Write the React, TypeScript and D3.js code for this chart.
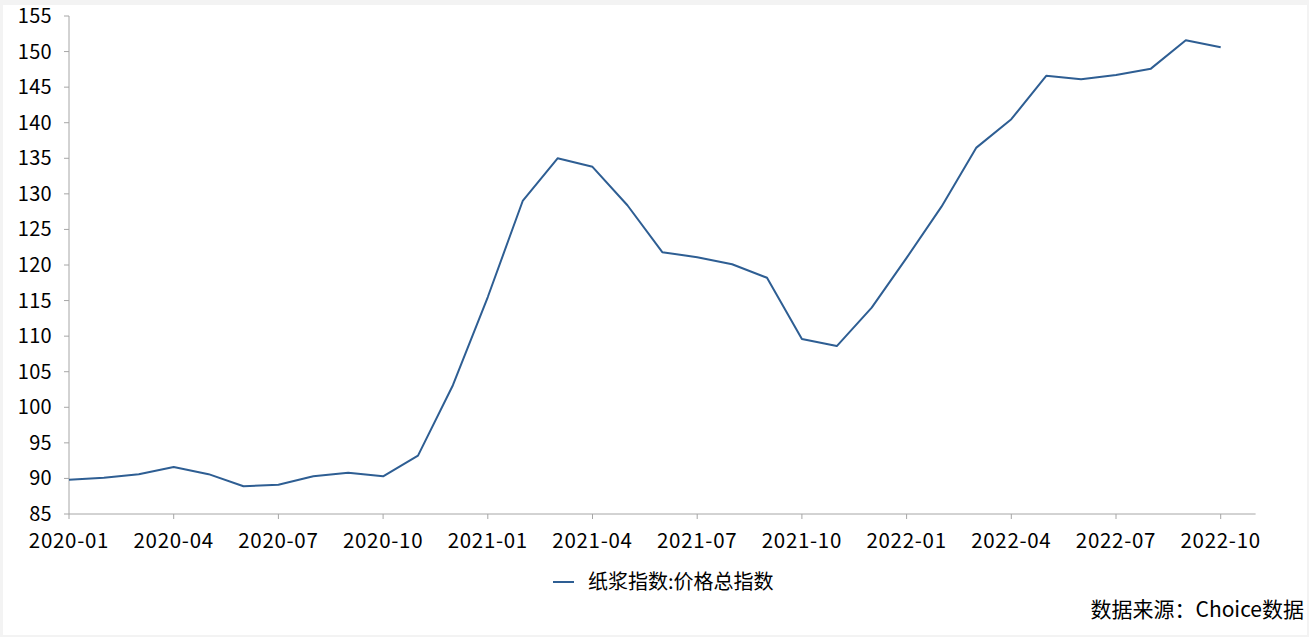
import React from "react";
import * as d3 from "d3";

const months: string[] = [
  "2020-01","2020-02","2020-03","2020-04","2020-05","2020-06","2020-07","2020-08","2020-09","2020-10","2020-11","2020-12",
  "2021-01","2021-02","2021-03","2021-04","2021-05","2021-06","2021-07","2021-08","2021-09","2021-10","2021-11","2021-12",
  "2022-01","2022-02","2022-03","2022-04","2022-05","2022-06","2022-07","2022-08","2022-09","2022-10",
];
const pulpIndex: number[] = [
  89.8, 90.1, 90.6, 91.6, 90.6, 88.9, 89.1, 90.3, 90.8, 90.3, 93.2, 103.1,
  115.5, 129.0, 135.0, 133.8, 128.4, 121.8, 121.1, 120.1, 118.2, 109.6, 108.6, 114.0,
  121.0, 128.2, 136.5, 140.5, 146.6, 146.1, 146.7, 147.6, 151.6, 150.6,
];
const yTicks: number[] = [85, 90, 95, 100, 105, 110, 115, 120, 125, 130, 135, 140, 145, 150, 155];
const xTickLabels: string[] = months.filter((_, i) => i % 3 === 0);
const seriesName = "纸浆指数:价格总指数";
const sourceText = "数据来源：Choice数据";

const W = 1309, H = 637;
const left = 69, right = 1255.6, top = 16, bottom = 514;
const FONT = "'Noto Sans CJK SC', 'Open Sans', sans-serif";

export default function App() {
  const x = d3.scaleLinear().domain([0, months.length]).range([left, right]);
  const y = d3.scaleLinear().domain([85, 155]).range([bottom, top]);
  const line = d3.line<number>().x((_, i) => x(i)).y((d) => y(d));
  const axisColor = "#a6a6a6";
  return (
    <svg width={W} height={H} style={{ position: "absolute", left: 0, top: 0 }} fontFamily={FONT}>
      <rect x={0} y={0} width={W} height={H} fill="#f3f3f3" />
      <rect x={3} y={5} width={1304} height={630} fill="#ffffff" />
      {/* y axis */}
      <line x1={left} x2={left} y1={top} y2={bottom} stroke={axisColor} strokeWidth={1} />
      {yTicks.map((t) => (
        <g key={t}>
          <line x1={left - 5} x2={left} y1={y(t)} y2={y(t)} stroke={axisColor} />
          <text x={52} y={y(t)} dy="0.35em" textAnchor="end" fontSize={20} letterSpacing={0.3} fill="#000">{t}</text>
        </g>
      ))}
      {/* x axis */}
      <line x1={left} x2={right} y1={bottom} y2={bottom} stroke={axisColor} strokeWidth={1} />
      {months.map((m, i) => (i % 3 === 0 ? (
        <g key={m}>
          <line x1={x(i)} x2={x(i)} y1={bottom} y2={bottom + 5} stroke={axisColor} />
          <text x={x(i)} y={548} textAnchor="middle" fontSize={20.5} letterSpacing={0.7} fill="#000">{xTickLabels[i / 3]}</text>
        </g>
      ) : null))}
      <path d={line(pulpIndex) || ""} fill="none" stroke="#2e5e93" strokeWidth={2} strokeLinejoin="round" />
      {/* legend */}
      <line x1={553} x2={574} y1={582} y2={582} stroke="#2e5e93" strokeWidth={2} />
      <text x={588} y={589} fontSize={20} fill="#000">{seriesName}</text>
      <text x={1304} y={617} textAnchor="end" fontSize={21} fill="#000">{sourceText}</text>
    </svg>
  );
}
